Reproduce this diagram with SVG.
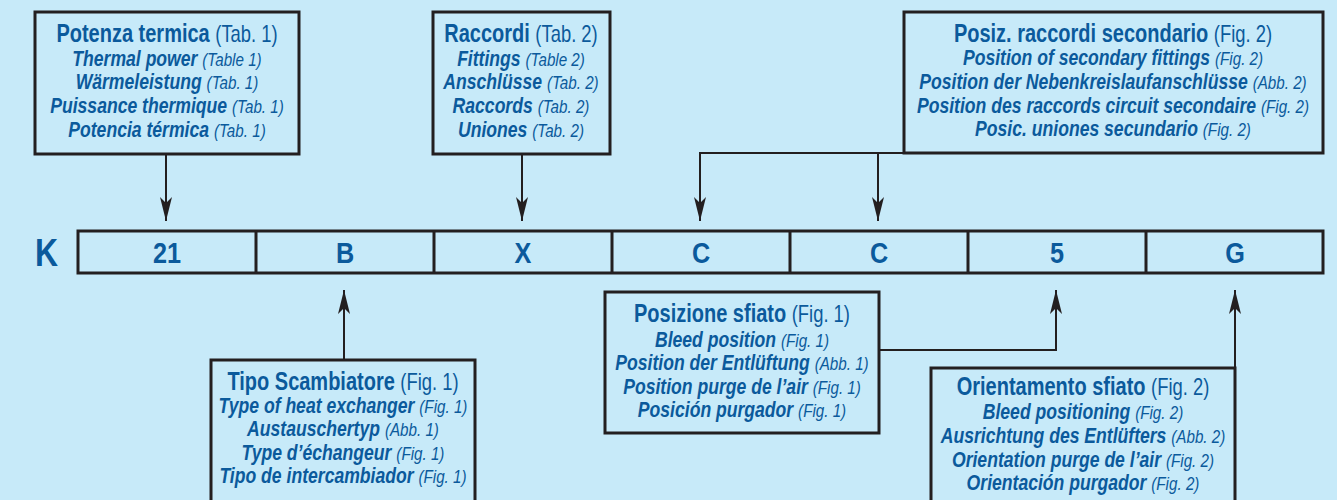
<svg xmlns="http://www.w3.org/2000/svg" width="1337" height="500" viewBox="0 0 1337 500">
<defs>
<marker id="ah" viewBox="0 0 24 12" refX="24" refY="6" markerWidth="24" markerHeight="12" markerUnits="userSpaceOnUse" orient="auto">
<path d="M0,0 L24,6 L0,12 L6,6 z" fill="#231f20"/>
</marker>
<style>
.box{fill:#c7eaf9;stroke:#231f20;stroke-width:3}
.cell{fill:none;stroke:#231f20;stroke-width:3}
.con{fill:none;stroke:#231f20;stroke-width:2;marker-end:url(#ah)}
text{font-family:"Liberation Sans",Arial,sans-serif;fill:#0b5a9c;text-anchor:middle}
.t{font-size:25px;font-weight:bold}
.l{font-size:22px;font-weight:bold;font-style:italic}
.r{font-weight:normal;font-style:normal;font-size:23px}
.ri{font-weight:normal;font-style:italic;font-size:19px}
.k{font-size:38px;font-weight:bold}
.c{font-size:29px;font-weight:bold}
</style>
</defs>
<rect width="1337" height="500" fill="#c7eaf9"/>
<g id="connectors">
<path class="con" d="M166,154 V221"/>
<path class="con" d="M522,154 V221"/>
<path class="con" d="M904,153 H700 V221"/>
<path class="con" d="M878,153 V221"/>
<path class="con" d="M344,360 V290"/>
<path class="con" d="M879,350 H1056 V290"/>
<path class="con" d="M1235,368 V290"/>
</g>
<g id="code">
<g transform="translate(46.5,266) scale(0.84,1)"><text class="k">K</text></g>
<rect class="cell" x="78" y="231" width="1245" height="42"/>
<path class="cell" d="M256,231 V273 M434,231 V273 M612,231 V273 M790,231 V273 M968,231 V273 M1146,231 V273"/>
<g transform="translate(167,263) scale(0.87,1)"><text class="c">21</text></g>
<g transform="translate(345,263) scale(0.87,1)"><text class="c">B</text></g>
<g transform="translate(523,263) scale(0.87,1)"><text class="c">X</text></g>
<g transform="translate(701,263) scale(0.87,1)"><text class="c">C</text></g>
<g transform="translate(879,263) scale(0.87,1)"><text class="c">C</text></g>
<g transform="translate(1057,263) scale(0.87,1)"><text class="c">5</text></g>
<g transform="translate(1235,263) scale(0.87,1)"><text class="c">G</text></g>
</g>
<g id="potenza">
<rect class="box" x="35" y="12" width="264" height="142"/>
<g transform="translate(167,0) scale(0.8,1)">
<text class="t" y="42">Potenza termica <tspan class="r">(Tab. 1)</tspan></text>
<text class="l" y="66">Thermal power <tspan class="ri">(Table 1)</tspan></text>
<text class="l" y="89">Wärmeleistung <tspan class="ri">(Tab. 1)</tspan></text>
<text class="l" y="113">Puissance thermique <tspan class="ri">(Tab. 1)</tspan></text>
<text class="l" y="137">Potencia térmica <tspan class="ri">(Tab. 1)</tspan></text>
</g>
</g>
<g id="raccordi">
<rect class="box" x="433" y="12" width="177" height="142"/>
<g transform="translate(521,0) scale(0.8,1)">
<text class="t" y="42">Raccordi <tspan class="r">(Tab. 2)</tspan></text>
<text class="l" y="66">Fittings <tspan class="ri">(Table 2)</tspan></text>
<text class="l" y="89">Anschlüsse <tspan class="ri">(Tab. 2)</tspan></text>
<text class="l" y="113">Raccords <tspan class="ri">(Tab. 2)</tspan></text>
<text class="l" y="137">Uniones <tspan class="ri">(Tab. 2)</tspan></text>
</g>
</g>
<g id="posiz">
<rect class="box" x="904" y="12" width="419" height="141"/>
<g transform="translate(1113,0) scale(0.8,1)">
<text class="t" y="42">Posiz. raccordi secondario <tspan class="r">(Fig. 2)</tspan></text>
<text class="l" y="65">Position of secondary fittings <tspan class="ri">(Fig. 2)</tspan></text>
<text class="l" y="89">Position der Nebenkreislaufanschlüsse <tspan class="ri">(Abb. 2)</tspan></text>
<text class="l" y="113">Position des raccords circuit secondaire <tspan class="ri">(Fig. 2)</tspan></text>
<text class="l" y="136">Posic. uniones secundario <tspan class="ri">(Fig. 2)</tspan></text>
</g>
</g>
<g id="tipo">
<rect class="box" x="211" y="360" width="264" height="145"/>
<g transform="translate(343,0) scale(0.8,1)">
<text class="t" y="390">Tipo Scambiatore <tspan class="r">(Fig. 1)</tspan></text>
<text class="l" y="413">Type of heat exchanger <tspan class="ri">(Fig. 1)</tspan></text>
<text class="l" y="436">Austauschertyp <tspan class="ri">(Abb. 1)</tspan></text>
<text class="l" y="460">Type d’échangeur <tspan class="ri">(Fig. 1)</tspan></text>
<text class="l" y="483">Tipo de intercambiador <tspan class="ri">(Fig. 1)</tspan></text>
</g>
</g>
<g id="sfiato">
<rect class="box" x="605" y="292" width="274" height="141"/>
<g transform="translate(742,0) scale(0.8,1)">
<text class="t" y="322">Posizione sfiato <tspan class="r">(Fig. 1)</tspan></text>
<text class="l" y="347">Bleed position <tspan class="ri">(Fig. 1)</tspan></text>
<text class="l" y="370">Position der Entlüftung <tspan class="ri">(Abb. 1)</tspan></text>
<text class="l" y="394">Position purge de l’air <tspan class="ri">(Fig. 1)</tspan></text>
<text class="l" y="417">Posición purgador <tspan class="ri">(Fig. 1)</tspan></text>
</g>
</g>
<g id="orientamento">
<rect class="box" x="931" y="368" width="304" height="137"/>
<g transform="translate(1083,0) scale(0.8,1)">
<text class="t" y="395">Orientamento sfiato <tspan class="r">(Fig. 2)</tspan></text>
<text class="l" y="419">Bleed positioning <tspan class="ri">(Fig. 2)</tspan></text>
<text class="l" y="443">Ausrichtung des Entlüfters <tspan class="ri">(Abb. 2)</tspan></text>
<text class="l" y="467">Orientation purge de l’air <tspan class="ri">(Fig. 2)</tspan></text>
<text class="l" y="490">Orientación purgador <tspan class="ri">(Fig. 2)</tspan></text>
</g>
</g>
</svg>
